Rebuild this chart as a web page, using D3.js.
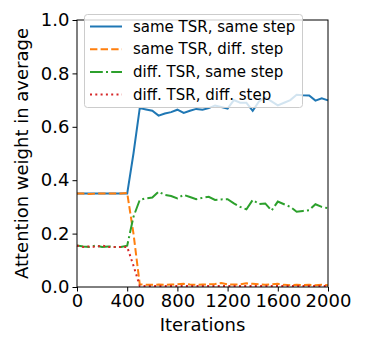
<!DOCTYPE html>
<html>
<head>
<meta charset="utf-8">
<script src="https://cdn.jsdelivr.net/npm/d3@7"></script>
<style>
  body { margin: 0; background: #fff; }
  text { font-family: "DejaVu Sans", sans-serif; fill: #000; }
</style>
</head>
<body>
<div id="chart"></div>
<script>
// iterations, sampled every 50
var iterations = d3.range(0, 2001, 50);

var sameTsrSameStep = [0.35, 0.35, 0.35, 0.35, 0.35, 0.35, 0.35, 0.35, 0.35, 0.50,
  0.67, 0.665, 0.66, 0.642, 0.65, 0.655, 0.664, 0.652, 0.66, 0.667,
  0.664, 0.67, 0.68, 0.674, 0.668, 0.70, 0.69, 0.69, 0.66, 0.695,
  0.71, 0.695, 0.68, 0.69, 0.70, 0.72, 0.718, 0.717, 0.698, 0.707, 0.699];
var sameTsrDiffStep = [0.35, 0.35, 0.348, 0.35, 0.35, 0.35, 0.35, 0.35, 0.352, 0.20,
  0.01, 0.008, 0.008, 0.009, 0.008, 0.009, 0.01, 0.012, 0.009, 0.008,
  0.009, 0.01, 0.011, 0.015, 0.01, 0.009, 0.01, 0.014, 0.012, 0.01,
  0.008, 0.01, 0.012, 0.008, 0.007, 0.008, 0.007, 0.008, 0.007, 0.008, 0.007];
var diffTsrSameStep = [0.155, 0.152, 0.15, 0.155, 0.15, 0.152, 0.15, 0.15, 0.155, 0.263,
  0.326, 0.332, 0.335, 0.357, 0.345, 0.341, 0.332, 0.345, 0.337, 0.329,
  0.334, 0.338, 0.326, 0.328, 0.329, 0.313, 0.30, 0.291, 0.326, 0.311,
  0.313, 0.286, 0.32, 0.31, 0.30, 0.282, 0.285, 0.288, 0.31, 0.30, 0.295];
var diffTsrDiffStep = [0.155, 0.15, 0.152, 0.15, 0.155, 0.15, 0.15, 0.15, 0.15, 0.08,
  0.004, 0.004, 0.004, 0.004, 0.004, 0.004, 0.004, 0.004, 0.004, 0.004,
  0.004, 0.004, 0.004, 0.004, 0.004, 0.004, 0.004, 0.004, 0.004, 0.004,
  0.004, 0.004, 0.004, 0.004, 0.004, 0.004, 0.004, 0.004, 0.004, 0.004, 0.004];

var seriesNames = ["same TSR, same step", "same TSR, diff. step", "diff. TSR, same step", "diff. TSR, diff. step"];
var xTicks = [0, 400, 800, 1200, 1600, 2000];
var yTicks = [0, 0.2, 0.4, 0.6, 0.8, 1.0];

var width = 366, height = 346;
var margin = {left: 77, right: 38, top: 20, bottom: 59};

var svg = d3.select("#chart").append("svg")
  .attr("width", width)
  .attr("height", height);

var x = d3.scaleLinear().domain([0, 2000]).range([margin.left, width - margin.right]);
var y = d3.scaleLinear().domain([0, 1]).range([height - margin.bottom, margin.top]);

var series = [
  {name: seriesNames[0], values: sameTsrSameStep, color: "#1f77b4", dash: null},
  {name: seriesNames[1], values: sameTsrDiffStep, color: "#ff7f0e", dash: "7.4,3.2"},
  {name: seriesNames[2], values: diffTsrSameStep, color: "#2ca02c", dash: "12.8,3.2,2,3.2"},
  {name: seriesNames[3], values: diffTsrDiffStep, color: "#d62728", dash: "2,3.3"}
];

var line = d3.line()
  .x(function(d, i) { return x(iterations[i]); })
  .y(function(d) { return y(d); });

svg.append("g").selectAll("path")
  .data(series)
  .enter().append("path")
  .attr("d", function(d) { return line(d.values); })
  .attr("fill", "none")
  .attr("stroke", function(d) { return d.color; })
  .attr("stroke-width", 2)
  .attr("stroke-dasharray", function(d) { return d.dash; });

// axes
var xAxis = svg.append("g")
  .attr("transform", "translate(0," + (height - margin.bottom) + ")")
  .call(d3.axisBottom(x).tickValues(xTicks).tickSize(4.5).tickPadding(3).tickFormat(d3.format("d")));
var yAxis = svg.append("g")
  .attr("transform", "translate(" + margin.left + ",0)")
  .call(d3.axisLeft(y).tickValues(yTicks).tickSize(4.5).tickPadding(3).tickFormat(d3.format(".1f")));

[xAxis, yAxis].forEach(function(a) {
  a.select(".domain").remove();
  a.selectAll("line").attr("stroke", "#000").attr("stroke-width", 1);
  a.selectAll("text").style("font-size", "18px").style("font-family", "DejaVu Sans");
});

// frame
svg.append("rect")
  .attr("x", margin.left).attr("y", margin.top)
  .attr("width", width - margin.left - margin.right)
  .attr("height", height - margin.top - margin.bottom)
  .attr("fill", "none")
  .attr("stroke", "#000")
  .attr("stroke-width", 1);

// labels
svg.append("text")
  .attr("x", (margin.left + width - margin.right) / 2)
  .attr("y", 331)
  .attr("text-anchor", "middle")
  .style("font-size", "18px")
  .text("Iterations");

svg.append("text")
  .attr("transform", "translate(28," + ((margin.top + height - margin.bottom) / 2) + ") rotate(-90)")
  .attr("text-anchor", "middle")
  .style("font-size", "18px")
  .text("Attention weight in average");

// legend
var legend = svg.append("g");
legend.append("rect")
  .attr("x", 84.5).attr("y", 14.5)
  .attr("width", 218).attr("height", 93)
  .attr("rx", 3)
  .attr("fill", "#fff")
  .attr("fill-opacity", 0.8)
  .attr("stroke", "#ccc")
  .attr("stroke-width", 1);

var item = legend.selectAll(".item")
  .data(series)
  .enter().append("g")
  .attr("class", "item")
  .attr("transform", function(d, i) { return "translate(0," + (26.5 + i * 22.7) + ")"; });

item.append("line")
  .attr("x1", 90).attr("x2", 122)
  .attr("stroke", function(d) { return d.color; })
  .attr("stroke-width", 2)
  .attr("stroke-dasharray", function(d) { return d.dash; });

item.append("text")
  .attr("x", 133)
  .attr("dy", "0.35em")
  .style("font-size", "15px")
  .text(function(d) { return d.name; });
</script>
</body>
</html>
